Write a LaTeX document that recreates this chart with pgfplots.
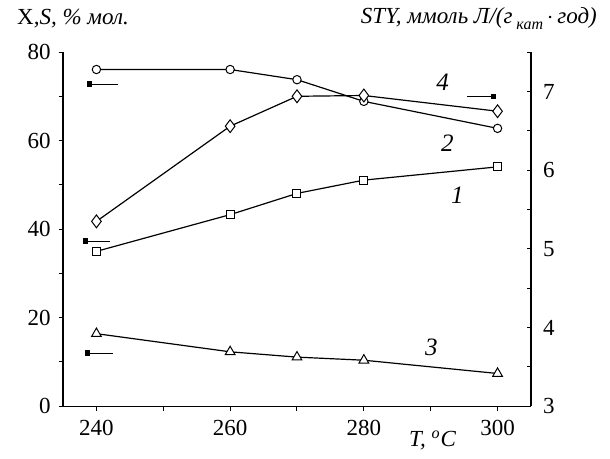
\documentclass[border=0pt]{standalone}
\usepackage{pgfplots}
\pgfplotsset{compat=1.18}
\usepackage{fontspec}
\setmainfont{Liberation Serif}
\begin{document}
\fontsize{11.5}{13}\selectfont
\begin{tikzpicture}
\pgfplotsset{
  common/.style={
    at={(0,0)}, anchor=south west, scale only axis,
    width=234pt, height=177pt,
    xmin=235, xmax=305,
    clip=false,
    axis line style={line width=0.6pt, -},
    tick style={black, line width=0.5pt},
    major tick length=2.2pt, minor tick length=2.2pt,
    every tick label/.style={font=\fontsize{11.5}{13}\selectfont},
    /pgf/number format/assume math mode=true,
  },
  curve/.style={black, line width=0.6pt, mark options={solid, fill=white, line width=0.5pt}},
  arr/.style={black, line width=0.6pt, mark=square*, mark size=1.05pt, mark options={fill=black}},
}
\begin{axis}[common,
  ymin=0, ymax=80,
  axis y line*=left, axis x line*=bottom,
  xtick={240,260,280,300}, minor xtick={250,270,290},
  ytick={0,20,40,60,80}, minor ytick={10,30,50,70},
  tick align=outside,
  xticklabel style={yshift=-1pt},
]
% 1: squares
\addplot[curve, mark=square*, mark size=2pt] coordinates {(240,35.0) (260,43.3) (270,48.1) (280,51.1) (300,54.1)};
% 2: circles
\addplot[curve, mark=*, mark size=2.1pt] coordinates {(240,76.1) (260,76.1) (270,73.8) (280,68.9) (300,62.8)};
% 3: triangles
\addplot[curve, mark=triangle*, mark size=2.8pt] coordinates {(240,16.4) (260,12.3) (270,11.1) (280,10.4) (300,7.4)};
% arrows to the left axis
\addplot[arr, mark indices={1}] coordinates {(239.0,72.8) (243.2,72.8)};
\addplot[arr, mark indices={1}] coordinates {(238.4,37.3) (242.0,37.3)};
\addplot[arr, mark indices={1}] coordinates {(238.7,12.0) (242.5,12.0)};
% curve labels
\node[font=\fontsize{12.5}{14}\selectfont\itshape] at (axis cs:291.8,73.2) {4};
\node[font=\fontsize{12.5}{14}\selectfont\itshape] at (axis cs:292.5,59.4) {2};
\node[font=\fontsize{12.5}{14}\selectfont\itshape] at (axis cs:294.0,47.7) {1};
\node[font=\fontsize{12.5}{14}\selectfont\itshape] at (axis cs:290.1,13.3) {3};
% titles
\node[anchor=west] at (rel axis cs:-0.115,1.095) {X\textit{,S, \% мол.}};
\node[anchor=east] at (rel axis cs:1.158,1.095) {\textit{STY, ммоль Л/(г\,\raisebox{-0.55ex}{\fontsize{8}{9}\selectfont кат}\,$\cdot$\,год)}};
\node at (rel axis cs:0.79,-0.097) {\textit{T, }$^{\mathit{o}}$\textit{C}};
\end{axis}
\begin{axis}[common,
  ymin=3, ymax=7.5,
  axis y line*=right, axis x line=none,
  ytick={3,4,5,6,7}, minor ytick={3.5,4.5,5.5,6.5,7.5},
  tick align=inside,
  yticklabel style={xshift=2pt},
]
% 4: diamonds, right axis
\addplot[curve, mark=diamond*, mark size=3.2pt] coordinates {(240,5.35) (260,6.56) (270,6.94) (280,6.95) (300,6.75)};
\addplot[arr, mark indices={2}] coordinates {(295.5,6.94) (299.4,6.94)};
\end{axis}
\path[use as bounding box] (-31.5pt,-23pt) rectangle (273.5pt,203pt);
\end{tikzpicture}
\end{document}
